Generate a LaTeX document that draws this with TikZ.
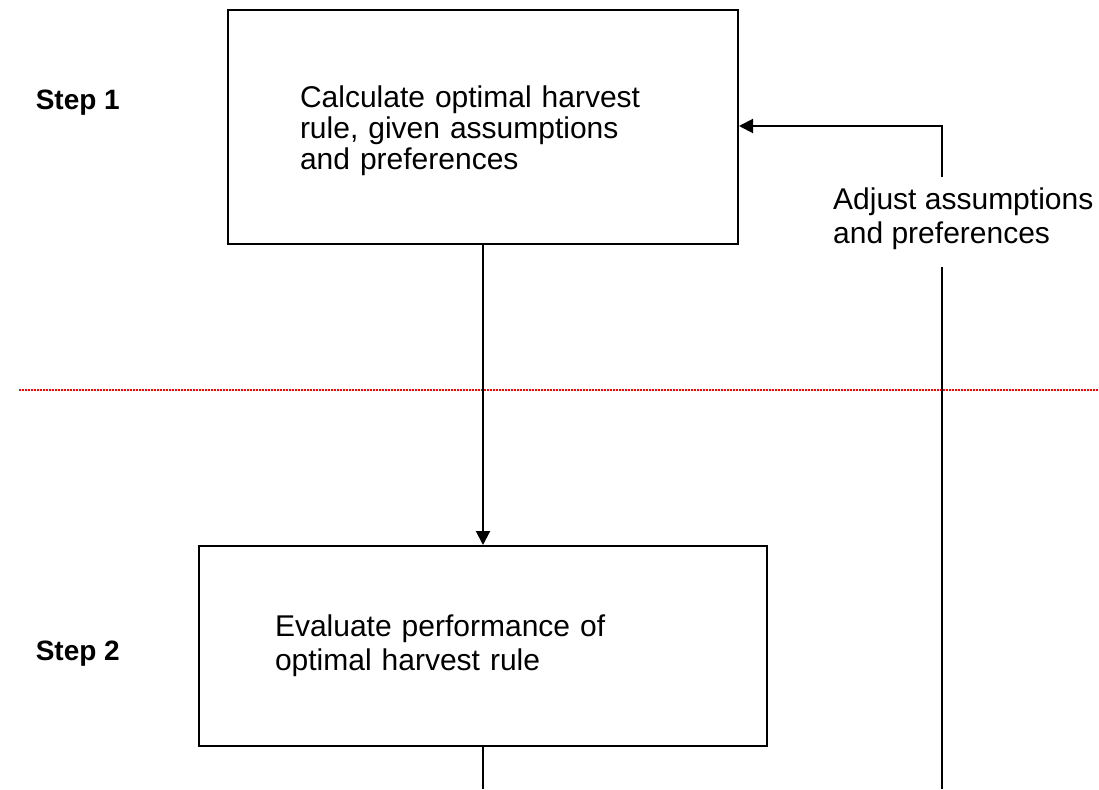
\documentclass[tikz,border=0pt]{standalone}
\usepackage{fontspec}
\setmainfont{Liberation Sans}
\usetikzlibrary{arrows.meta}
\begin{document}
\begin{tikzpicture}[x=1pt,y=-1pt,
  every node/.style={font=\fontsize{30}{34}\selectfont},
  stepbox/.style={draw,line width=2pt,align=left,inner ysep=0pt},
  steplabel/.style={anchor=base east,inner sep=0pt,font=\fontsize{28}{34}\selectfont\bfseries},
  conn/.style={line width=2pt},
  arr/.style={conn,-{Triangle[width=14pt,length=14pt]}},
  sep/.style={red,line width=1.5pt,dash pattern=on 1.5pt off 1.5pt}]
\useasboundingbox (0,0) rectangle (1099,789);
\draw[sep] (19,390) -- (1099,390);
\node[stepbox,minimum width=510pt,minimum height=234pt,inner xsep=72pt,text width=366pt,
  font=\fontsize{30}{31}\selectfont] (box1) at (483,127)
  {\rule{0pt}{30pt}Calculate optimal harvest\\rule, given assumptions\\and preferences};
\node[stepbox,minimum width=568pt,minimum height=200pt,inner xsep=76pt,text width=416pt] (box2) at (483,646)
  {Evaluate performance of\\optimal harvest rule};
\node[steplabel] (s1) at (120,110) {Step 1};
\node[steplabel] (s2) at (120,660) {Step 2};
\node[anchor=base west,align=left,inner sep=0pt] (adj) at (833,243)
  {Adjust assumptions\\and preferences};
\coordinate (c1) at (942,126);
\coordinate (c2) at (942,177);
\coordinate (c3) at (942,267);
\coordinate (c4) at (942,789);
\coordinate (b2) at (483,789);
\draw[arr] (box1.south) -- (box2.north);
\draw[conn] (box2.south) -- (b2);
\draw[conn] (c4) -- (c3);
\draw[arr] (c2) -- (c1) -- (box1.east |- c1);
\end{tikzpicture}
\end{document}
